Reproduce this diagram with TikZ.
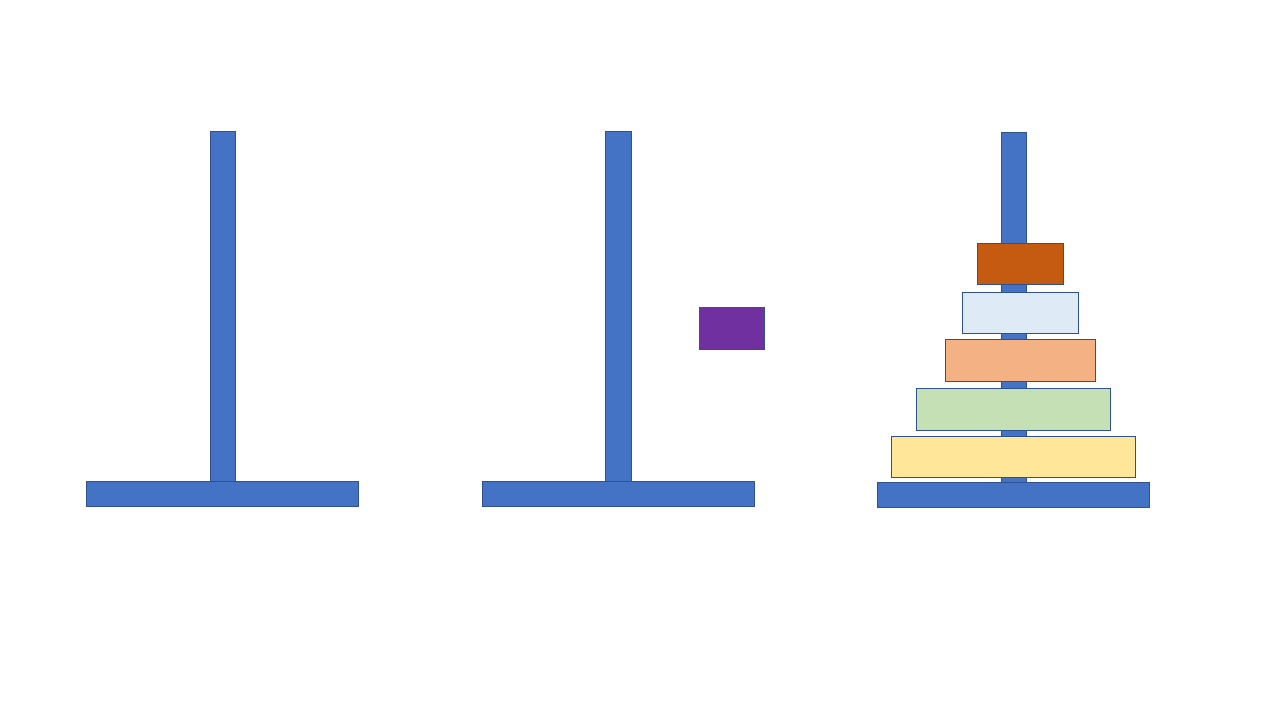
\documentclass[tikz,border=0pt]{standalone}
\definecolor{pegblue}{HTML}{4472C4}
\definecolor{edgeblue}{HTML}{2F528F}
\definecolor{diskorange}{HTML}{C55A11}
\definecolor{disklightblue}{HTML}{DEEBF7}
\definecolor{disksalmon}{HTML}{F4B183}
\definecolor{diskgreen}{HTML}{C5E0B4}
\definecolor{diskyellow}{HTML}{FFE699}
\definecolor{diskpurple}{HTML}{7030A0}
\tikzset{
  part/.style={draw=edgeblue, line width=0.9pt},
  peg/.style={part, fill=pegblue},
}
\begin{document}
\begin{tikzpicture}[x=1pt,y=-1pt]
\useasboundingbox (0,0) rectangle (1280,720);
% tower 1
\path[peg] (210.3,131.3) rectangle (235.7,481.3);
\path[peg] (86.3,481.3) rectangle (358.7,506.3);
% tower 2
\path[peg] (605.3,131.3) rectangle (631.3,481.3);
\path[peg] (482.3,481.3) rectangle (754.3,506.3);
% tower 3
\path[peg] (1001.3,132.3) rectangle (1026.3,482.3);
\path[peg] (877.3,482.3) rectangle (1149.3,507.3);
% disks
\path[part, fill=diskorange] (977.3,243.3) rectangle (1063.3,284.3);
\path[part, fill=disklightblue] (962.3,292.3) rectangle (1078.3,333.3);
\path[part, fill=disksalmon] (945.3,339.3) rectangle (1095.3,381.3);
\path[part, fill=diskgreen] (916.3,388.3) rectangle (1110.3,430.3);
\path[part, fill=diskyellow] (891.3,436.3) rectangle (1135.3,477.3);
% moving disk
\path[part, fill=diskpurple] (699,307) rectangle (764.7,349.7);
\end{tikzpicture}
\end{document}
